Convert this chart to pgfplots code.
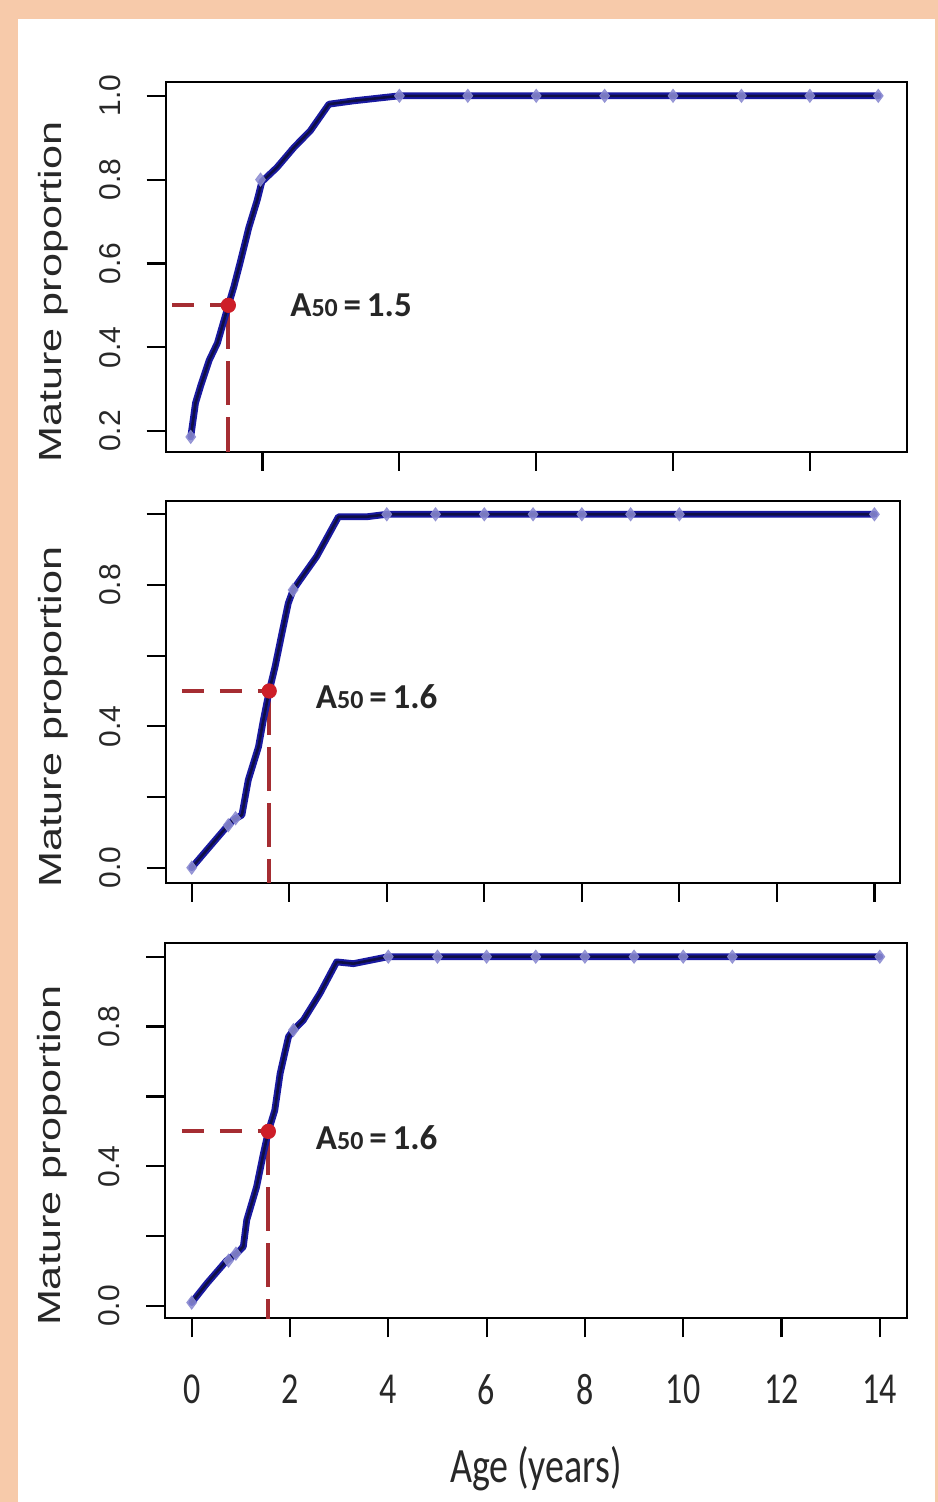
\documentclass[border=0pt]{standalone}
\usepackage{fontspec}
\setmainfont{Liberation Sans}
\newfontfamily\carl{Carlito}
\usepackage{graphicx}
\usepackage{pgfplots}
\pgfplotsset{compat=1.18}
\definecolor{peach}{RGB}{247,202,170}
\definecolor{navyout}{RGB}{25,25,160}
\definecolor{navyin}{RGB}{15,15,70}
\definecolor{mk}{RGB}{140,140,210}
\definecolor{dashred}{RGB}{165,45,50}
\definecolor{dotred}{RGB}{205,30,40}
\definecolor{txt}{RGB}{40,40,40}

\tikzset{a50/.style={anchor=west, inner sep=0pt, font=\carl\bfseries\fontsize{17.5bp}{17.5bp}\selectfont, text=black!85}}
\pgfplotsset{
  mypanel/.style={
    scale only axis, anchor=south west,
    axis line style={line width=1.1bp, black},
    every tick/.style={black, line width=1.1bp},
    tick align=outside, major tick length=9.5bp,
    xtick pos=lower, ytick pos=left,
    yticklabel style={xshift=-18.5bp, font=\fontsize{15bp}{15bp}\selectfont, text=txt, rotate=90, anchor=center},
    xticklabel style={yshift=-26bp, font=\carl\fontsize{17bp}{17bp}\selectfont, text=txt, anchor=center},
    every axis y label/.style={at={(axis description cs:0,0.5)}, xshift=-56.3bp, yshift=-12.5bp, rotate=90, anchor=center, font=\fontsize{16bp}{16bp}\selectfont, text=txt},
    every axis x label/.style={at={(axis description cs:0.5,0)}, yshift=-75bp, anchor=center, font=\carl\fontsize{19bp}{19bp}\selectfont, text=txt},
    ylabel={\scalebox{1.35}[1]{Mature proportion}},
  },
  curveout/.style={navyout, line width=3.4bp, line join=round, line cap=round},
  curvein/.style={navyin, line width=1.3bp, line join=round, line cap=round},
  mks/.style={only marks, mark=diamond*, mark size=3.3bp, mk, mark options={fill opacity=0.85, draw opacity=0.85}},
  hdash/.style={dashred, line width=2bp, dash pattern=on 11bp off 8bp},
  vdash/.style={dashred, line width=2bp, dash pattern=on 22bp off 6bp},
  reddot/.style={only marks, mark=*, mark size=3.6bp, dotred},
}

\begin{document}
\begin{tikzpicture}
\fill[peach] (0,0) rectangle (469bp,751bp);
\fill[white] (9bp,0) rectangle (467.5bp,741.5bp);

% ---------- top panel ----------
\begin{axis}[mypanel, at={(82.85bp,525bp)}, width=370.65bp, height=185bp,
  xmin=0.584, xmax=11.42, ymin=0.15, ymax=1.033,
  xtick={2,4,6,8,10}, xticklabels={},
  ytick={0.2,0.4,0.6,0.8,1.0}, yticklabels={0.2,0.4,0.6,0.8,1.0}]
\addplot[hdash] coordinates {(0.68,0.5) (1.50,0.5)};
\addplot[vdash] coordinates {(1.50,0.5) (1.50,0.10)};
\addplot[curveout] coordinates {(0.95,0.186) (1.02,0.267) (1.09,0.305) (1.22,0.369) (1.34,0.41) (1.50,0.50) (1.58,0.544) (1.68,0.607) (1.80,0.686) (1.92,0.75) (1.99,0.795) (2.21,0.829) (2.46,0.877) (2.70,0.917) (2.97,0.98) (3.33,0.988) (4,1) (5,1) (6,1) (7,1) (8,1) (9,1) (10,1) (11,1)};
\addplot[curvein] coordinates {(0.95,0.186) (1.02,0.267) (1.09,0.305) (1.22,0.369) (1.34,0.41) (1.50,0.50) (1.58,0.544) (1.68,0.607) (1.80,0.686) (1.92,0.75) (1.99,0.795) (2.21,0.829) (2.46,0.877) (2.70,0.917) (2.97,0.98) (3.33,0.988) (4,1) (5,1) (6,1) (7,1) (8,1) (9,1) (10,1) (11,1)};
\addplot[mks] coordinates {(0.95,0.186) (1.97,0.80) (4,1) (5,1) (6,1) (7,1) (8,1) (9,1) (10,1) (11,1)};
\addplot[reddot] coordinates {(1.50,0.5)};
\node[a50] at (axis cs:2.40,0.5) {A{\fontsize{13bp}{13bp}\selectfont 50}\,=\,1.5};
\end{axis}

% ---------- middle panel ----------
\begin{axis}[mypanel, at={(82.85bp,309.5bp)}, width=367.05bp, height=191.15bp,
  xmin=-0.533, xmax=14.52, ymin=-0.0433, ymax=1.0385,
  xtick={0,2,4,6,8,10,12,14}, xticklabels={},
  ytick={0,0.2,0.4,0.6,0.8,1.0}, yticklabels={0.0,,0.4,,0.8,}]
\addplot[hdash] coordinates {(-0.2,0.5) (1.59,0.5)};
\addplot[vdash] coordinates {(1.59,0.5) (1.59,-0.1)};
\addplot[curveout] coordinates {(0,0) (0.31,0.05) (0.72,0.116) (0.85,0.135) (1.03,0.149) (1.16,0.248) (1.37,0.342) (1.47,0.418) (1.59,0.50) (1.71,0.569) (1.85,0.663) (1.98,0.748) (2.08,0.786) (2.22,0.814) (2.56,0.88) (3.01,0.993) (3.59,0.993) (4,1) (5,1) (6,1) (7,1) (8,1) (9,1) (10,1) (14,1)};
\addplot[curvein] coordinates {(0,0) (0.31,0.05) (0.72,0.116) (0.85,0.135) (1.03,0.149) (1.16,0.248) (1.37,0.342) (1.47,0.418) (1.59,0.50) (1.71,0.569) (1.85,0.663) (1.98,0.748) (2.08,0.786) (2.22,0.814) (2.56,0.88) (3.01,0.993) (3.59,0.993) (4,1) (5,1) (6,1) (7,1) (8,1) (9,1) (10,1) (14,1)};
\addplot[mks] coordinates {(0,0) (0.75,0.12) (0.9,0.14) (2.08,0.786) (4,1) (5,1) (6,1) (7,1) (8,1) (9,1) (10,1) (14,1)};
\addplot[reddot] coordinates {(1.59,0.5)};
\node[a50] at (axis cs:2.54,0.5) [yshift=-3bp] {A{\fontsize{13bp}{13bp}\selectfont 50}\,=\,1.6};
\end{axis}

% ---------- bottom panel ----------
\begin{axis}[mypanel, at={(82.5bp,91.85bp)}, width=370.85bp, height=187.8bp,
  xmin=-0.543, xmax=14.547, ymin=-0.035, ymax=1.04,
  xtick={0,2,4,6,8,10,12,14},
  xticklabels={\scalebox{1}[1.3]{0},\scalebox{1}[1.3]{2},\scalebox{1}[1.3]{4},\scalebox{1}[1.3]{6},\scalebox{1}[1.3]{8},\scalebox{1}[1.3]{10},\scalebox{1}[1.3]{12},\scalebox{1}[1.3]{14}},
  ytick={0,0.2,0.4,0.6,0.8,1.0}, yticklabels={0.0,,0.4,,0.8,},
  xlabel={\scalebox{1}[1.3]{Age (years)}}]
\addplot[hdash] coordinates {(-0.2,0.5) (1.56,0.5)};
\addplot[vdash] coordinates {(1.56,0.5) (1.56,-0.1)};
\addplot[curveout] coordinates {(0,0.01) (0.31,0.065) (0.71,0.13) (0.92,0.151) (1.05,0.17) (1.12,0.246) (1.32,0.341) (1.46,0.437) (1.56,0.50) (1.69,0.56) (1.80,0.666) (1.97,0.771) (2.07,0.79) (2.27,0.818) (2.61,0.895) (2.95,0.985) (3.29,0.98) (4,1) (5,1) (6,1) (7,1) (8,1) (9,1) (10,1) (11,1) (14,1)};
\addplot[curvein] coordinates {(0,0.01) (0.31,0.065) (0.71,0.13) (0.92,0.151) (1.05,0.17) (1.12,0.246) (1.32,0.341) (1.46,0.437) (1.56,0.50) (1.69,0.56) (1.80,0.666) (1.97,0.771) (2.07,0.79) (2.27,0.818) (2.61,0.895) (2.95,0.985) (3.29,0.98) (4,1) (5,1) (6,1) (7,1) (8,1) (9,1) (10,1) (11,1) (14,1)};
\addplot[mks] coordinates {(0,0.01) (0.75,0.13) (0.9,0.15) (2.07,0.79) (4,1) (5,1) (6,1) (7,1) (8,1) (9,1) (10,1) (11,1) (14,1)};
\addplot[reddot] coordinates {(1.56,0.5)};
\node[a50] at (axis cs:2.52,0.5) [yshift=-3bp] {A{\fontsize{13bp}{13bp}\selectfont 50}\,=\,1.6};
\end{axis}
\end{tikzpicture}
\end{document}
